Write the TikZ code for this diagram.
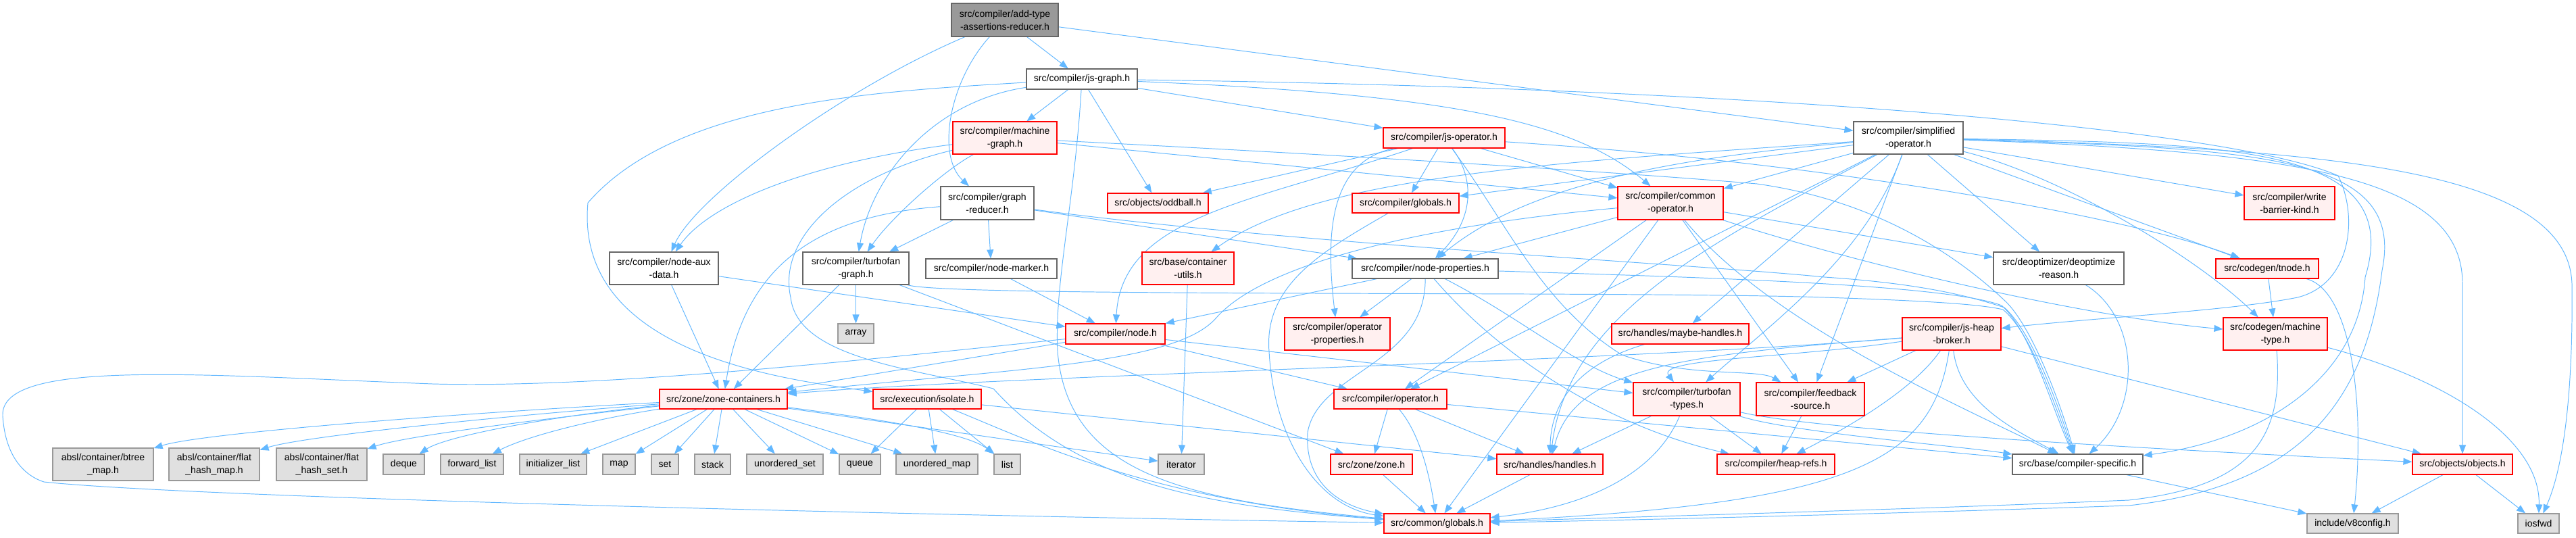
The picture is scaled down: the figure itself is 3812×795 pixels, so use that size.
\documentclass[tikz,border=0pt]{standalone}
\usepackage{fontspec}
\setmainfont{Liberation Sans}
\usetikzlibrary{arrows.meta}
\definecolor{edgec}{HTML}{63B8FF}
\definecolor{redb}{HTML}{FF0000}
\definecolor{redf}{HTML}{FFF0F0}
\definecolor{grayb}{HTML}{999999}
\definecolor{grayf}{HTML}{E0E0E0}
\definecolor{darkb}{HTML}{666666}
\pgfdeclarelayer{bg}
\pgfsetlayers{bg,main}
\newcommand\mkn[7]{\node[#1, minimum width={(#5-#3)*0.02cm}, minimum height={(#6-#4)*0.02cm}] (#2) at ({(#3+#5)/2},{(#4+#6)/2}) {#7};}
\begin{document}
\begin{tikzpicture}[x=0.02cm,y=-0.02cm,
  box/.style={rectangle, inner sep=0pt, line width=0.7pt, align=center, font=\fontsize{8}{10.8}\selectfont, text=black},
  rb/.style={box, draw=redb, fill=redf},
  wb/.style={box, draw=darkb, fill=white},
  gb/.style={box, draw=grayb, fill=grayf},
  rootb/.style={box, draw=darkb, fill=grayb},
  e/.style={draw=edgec, line width=0.55pt, -{Triangle[length=0.26cm,width=0.2cm]}}]
\useasboundingbox (0,0) rectangle (3812,795);
% nodes
\mkn{rootb}{root}{1408}{5}{1566}{54}{src/compiler/add-type\\-assertions-reducer.h}
\mkn{wb}{jsgraph}{1519}{102}{1683}{132}{src/compiler/js-graph.h}
\mkn{rb}{mgraph}{1410}{180}{1564}{228}{src/compiler/machine\\-graph.h}
\mkn{wb}{greducer}{1392}{276}{1530}{325}{src/compiler/graph\\-reducer.h}
\mkn{rb}{oddball}{1639}{286}{1788}{315}{src/objects/oddball.h}
\mkn{wb}{nodeaux}{902}{373}{1063}{421}{src/compiler/node-aux\\-data.h}
\mkn{wb}{tfgraph}{1188}{373}{1345}{421}{src/compiler/turbofan\\-graph.h}
\mkn{wb}{nodemarker}{1370}{383}{1564}{412}{src/compiler/node-marker.h}
\mkn{rb}{cutils}{1690}{373}{1826}{421}{src/base/container\\-utils.h}
\mkn{gb}{array}{1240}{479}{1293}{508}{array}
\mkn{rb}{nodeh}{1577}{479}{1724}{509}{src/compiler/node.h}
\mkn{rb}{opprops}{1901}{470}{2057}{518}{src/compiler/operator\\-properties.h}
\mkn{rb}{zonecont}{976}{576}{1165}{605}{src/zone/zone-containers.h}
\mkn{rb}{isolate}{1292}{576}{1452}{605}{src/execution/isolate.h}
\mkn{gb}{btree}{78}{663}{227}{711}{absl/container/btree\\\_map.h}
\mkn{gb}{fhm}{250}{663}{384}{711}{absl/container/flat\\\_hash\_map.h}
\mkn{gb}{fhs}{409}{663}{543}{711}{absl/container/flat\\\_hash\_set.h}
\mkn{gb}{deque}{567}{672}{628}{702}{deque}
\mkn{gb}{fwdlist}{652}{672}{745}{702}{forward\_list}
\mkn{gb}{initlist}{769}{672}{868}{702}{initializer\_list}
\mkn{gb}{map}{892}{672}{940}{702}{map}
\mkn{gb}{set}{964}{672}{1004}{702}{set}
\mkn{gb}{stack}{1028}{672}{1081}{702}{stack}
\mkn{gb}{uset}{1105}{672}{1218}{702}{unordered\_set}
\mkn{gb}{queue}{1242}{672}{1303}{702}{queue}
\mkn{gb}{umap}{1326}{672}{1447}{702}{unordered\_map}
\mkn{gb}{list}{1471}{672}{1510}{702}{list}
\mkn{gb}{iterator}{1714}{672}{1782}{702}{iterator}
\mkn{rb}{jsop}{2047}{189}{2227}{219}{src/compiler/js-operator.h}
\mkn{rb}{cmpglobals}{2001}{286}{2159}{315}{src/compiler/globals.h}
\mkn{rb}{commonop}{2394}{276}{2550}{325}{src/compiler/common\\-operator.h}
\mkn{wb}{nodeprops}{2001}{383}{2217}{412}{src/compiler/node-properties.h}
\mkn{rb}{operatorh}{1974}{576}{2141}{605}{src/compiler/operator.h}
\mkn{rb}{zoneh}{1969}{672}{2090}{702}{src/zone/zone.h}
\mkn{rb}{handles}{2215}{672}{2372}{702}{src/handles/handles.h}
\mkn{rb}{cglobals}{2048}{760}{2205}{789}{src/common/globals.h}
\mkn{rb}{maybeh}{2385}{479}{2588}{509}{src/handles/maybe-handles.h}
\mkn{rb}{tftypes}{2417}{566}{2575}{615}{src/compiler/turbofan\\-types.h}
\mkn{rb}{heaprefs}{2541}{672}{2715}{702}{src/compiler/heap-refs.h}
\mkn{wb}{simplified}{2743}{180}{2905}{228}{src/compiler/simplified\\-operator.h}
\mkn{wb}{deopt}{2950}{373}{3143}{421}{src/deoptimizer/deoptimize\\-reason.h}
\mkn{rb}{jsheap}{2815}{470}{2961}{518}{src/compiler/js-heap\\-broker.h}
\mkn{rb}{feedback}{2599}{566}{2759}{615}{src/compiler/feedback\\-source.h}
\mkn{wb}{compspec}{2978}{672}{3171}{702}{src/base/compiler-specific.h}
\mkn{rb}{writebarrier}{3321}{276}{3455}{325}{src/compiler/write\\-barrier-kind.h}
\mkn{rb}{tnode}{3279}{383}{3431}{412}{src/codegen/tnode.h}
\mkn{rb}{machtype}{3290}{470}{3444}{518}{src/codegen/machine\\-type.h}
\mkn{rb}{objects}{3570}{672}{3718}{702}{src/objects/objects.h}
\mkn{gb}{v8config}{3414}{760}{3549}{789}{include/v8config.h}
\mkn{gb}{iosfwd}{3726}{760}{3787}{789}{iosfwd}
\begin{pgfonlayer}{bg}
\fill[white] (0,0) rectangle (3812,795);
% root
\draw[e] (root) -- (jsgraph);
\draw[e] (root) .. controls (1405,120) and (1385,230) .. (greducer);
\draw[e] (root) .. controls (1250,130) and (1030,290) .. (nodeaux);
\draw[e] (root) -- (simplified);
% js-graph
\draw[e] (jsgraph) -- (mgraph);
\draw[e] (jsgraph) -- (oddball);
\draw[e] (jsgraph) .. controls (1380,150) and (1290,260) .. (tfgraph);
\draw[e] (jsgraph) .. controls (1300,135) and (1000,150) .. (870,300) .. controls (850,520) and (1150,560) .. (isolate);
\draw[e] (jsgraph) .. controls (1590,300) and (1560,420) .. (1565,520) .. controls (1580,700) and (1750,740) .. (cglobals);
\draw[e] (jsgraph) -- (jsop);
\draw[e] (jsgraph) .. controls (2150,140) and (2330,180) .. (commonop);
\draw[e] (jsgraph) .. controls (2600,130) and (3300,190) .. (3460,260) .. controls (3490,320) and (3480,420) .. (3400,440) .. controls (3300,460) and (3100,470) .. (jsheap);
% machine-graph
\draw[e] (mgraph) .. controls (1200,240) and (1050,300) .. (nodeaux);
\draw[e] (mgraph) .. controls (1400,250) and (1320,320) .. (tfgraph);
\draw[e] (mgraph) .. controls (1250,260) and (1150,350) .. (1170,440) .. controls (1180,530) and (1350,545) .. (1470,575) .. controls (1600,720) and (1800,750) .. (cglobals);
\draw[e] (mgraph) .. controls (2000,230) and (2400,255) .. (2600,272) .. controls (2800,300) and (2920,400) .. (2970,448) .. controls (3010,490) and (3050,600) .. (compspec);
\draw[e] (mgraph) -- (commonop);
% graph-reducer
\draw[e] (greducer) -- (tfgraph);
\draw[e] (greducer) -- (nodemarker);
\draw[e] (greducer) .. controls (1200,320) and (1100,400) .. (zonecont);
\draw[e] (greducer) -- (nodeprops);
\draw[e] (greducer) .. controls (1900,360) and (2500,390) .. (2700,410) .. controls (2850,420) and (2920,440) .. (2966,455) .. controls (3010,495) and (3045,600) .. (compspec);
% node-aux-data
\draw[e] (nodeaux) -- (zonecont);
\draw[e] (nodeaux) -- (nodeh);
% turbofan-graph
\draw[e] (tfgraph) -- (array);
\draw[e] (tfgraph) -- (zonecont);
\draw[e] (tfgraph) -- (zoneh);
\draw[e] (tfgraph) .. controls (1400,440) and (2400,430) .. (2700,440) .. controls (2850,445) and (2930,450) .. (2964,458) .. controls (3008,495) and (3040,600) .. (compspec);
% misc
\draw[e] (nodemarker) -- (nodeh);
\draw[e] (cutils) -- (iterator);
% node.h
\draw[e] (nodeh) -- (zonecont);
\draw[e] (nodeh) .. controls (1300,530) and (900,575) .. (640,568) .. controls (300,555) and (0,530) .. (4,615) .. controls (8,680) and (40,705) .. (65,713) .. controls (300,738) and (1500,765) .. (cglobals);
\draw[e] (nodeh) -- (operatorh);
\draw[e] (nodeh) -- (tftypes);
% zone-containers
\draw[e] (zonecont) .. controls (700,610) and (300,640) .. (btree);
\draw[e] (zonecont) .. controls (750,615) and (450,645) .. (fhm);
\draw[e] (zonecont) .. controls (800,620) and (600,645) .. (fhs);
\draw[e] (zonecont) .. controls (820,615) and (660,645) .. (deque);
\draw[e] (zonecont) .. controls (880,620) and (780,645) .. (fwdlist);
\draw[e] (zonecont) -- (initlist);
\draw[e] (zonecont) -- (map);
\draw[e] (zonecont) -- (set);
\draw[e] (zonecont) -- (stack);
\draw[e] (zonecont) -- (uset);
\draw[e] (zonecont) -- (queue);
\draw[e] (zonecont) -- (umap);
\draw[e] (zonecont) .. controls (1300,620) and (1430,640) .. (list);
\draw[e] (zonecont) -- (iterator);
% isolate
\draw[e] (isolate) -- (queue);
\draw[e] (isolate) -- (umap);
\draw[e] (isolate) -- (list);
\draw[e] (isolate) .. controls (1520,650) and (1700,740) .. (cglobals);
\draw[e] (isolate) -- (handles);
% operator.h
\draw[e] (operatorh) -- (zoneh);
\draw[e] (operatorh) .. controls (2100,640) and (2115,700) .. (cglobals);
\draw[e] (operatorh) -- (handles);
\draw[e] (operatorh) -- (compspec);
\draw[e] (zoneh) -- (cglobals);
\draw[e] (handles) -- (cglobals);
% node-properties
\draw[e] (nodeprops) -- (opprops);
\draw[e] (nodeprops) -- (nodeh);
\draw[e] (nodeprops) .. controls (2110,540) and (1950,550) .. (1935,640) .. controls (1930,720) and (1990,750) .. (cglobals);
\draw[e] (nodeprops) .. controls (2250,470) and (2330,540) .. (tftypes);
\draw[e] (nodeprops) .. controls (2250,560) and (2420,640) .. (heaprefs);
\draw[e] (nodeprops) .. controls (2500,410) and (2880,420) .. (2962,452) .. controls (3005,490) and (3035,600) .. (compspec);
% common-operator
\draw[e] (commonop) -- (nodeprops);
\draw[e] (commonop) -- (operatorh);
\draw[e] (commonop) -- (cglobals);
\draw[e] (commonop) .. controls (2150,330) and (1880,380) .. (1800,470) .. controls (1740,540) and (1500,545) .. (zonecont);
\draw[e] (commonop) .. controls (2620,480) and (2900,600) .. (compspec);
\draw[e] (commonop) .. controls (2780,400) and (3100,470) .. (machtype);
\draw[e] (commonop) -- (feedback);
\draw[e] (commonop) -- (deopt);
% simplified-operator
\draw[e] (simplified) -- (commonop);
\draw[e] (simplified) -- (cmpglobals);
\draw[e] (simplified) .. controls (2300,240) and (1950,260) .. (cutils);
\draw[e] (simplified) .. controls (2450,235) and (2250,280) .. (nodeprops);
\draw[e] (simplified) -- (operatorh);
\draw[e] (simplified) .. controls (2760,380) and (2620,480) .. (tftypes);
\draw[e] (simplified) -- (feedback);
\draw[e] (simplified) .. controls (2550,350) and (2320,460) .. (handles);
\draw[e] (simplified) -- (maybeh);
\draw[e] (simplified) .. controls (3350,220) and (3560,230) .. (3525,400) .. controls (3500,600) and (3400,720) .. (3150,748) .. controls (2800,760) and (2400,770) .. (cglobals);
\draw[e] (simplified) .. controls (3300,212) and (3560,215) .. (3500,410) .. controls (3490,560) and (3350,650) .. (compspec);
\draw[e] (simplified) .. controls (3400,225) and (3644,260) .. (3644,420) -- (objects);
\draw[e] (simplified) .. controls (3450,220) and (3800,250) .. (3806,420) .. controls (3808,600) and (3790,700) .. (iosfwd);
\draw[e] (simplified) -- (writebarrier);
\draw[e] (simplified) -- (tnode);
\draw[e] (simplified) .. controls (3050,260) and (3250,380) .. (machtype);
\draw[e] (simplified) -- (deopt);
% js-operator
\draw[e] (jsop) -- (cmpglobals);
\draw[e] (jsop) .. controls (2180,260) and (2185,320) .. (nodeprops);
\draw[e] (jsop) .. controls (1965,240) and (1962,350) .. (opprops);
\draw[e] (jsop) -- (commonop);
\draw[e] (jsop) .. controls (1850,300) and (1660,320) .. (nodeh);
\draw[e] (jsop) -- (oddball);
\draw[e] (jsop) .. controls (2230,330) and (2280,450) .. (2400,525) .. controls (2500,560) and (2600,545) .. (feedback);
\draw[e] (jsop) .. controls (2700,240) and (3150,320) .. (tnode);
% js-heap-broker
\draw[e] (jsheap) -- (feedback);
\draw[e] (jsheap) .. controls (2830,580) and (2720,640) .. (heaprefs);
\draw[e] (jsheap) .. controls (2860,680) and (2750,745) .. (cglobals);
\draw[e] (jsheap) .. controls (2900,600) and (2990,640) .. (compspec);
\draw[e] (jsheap) -- (objects);
\draw[e] (jsheap) .. controls (2400,535) and (1500,555) .. (zonecont);
\draw[e] (jsheap) .. controls (2500,525) and (2330,540) .. (handles);
\draw[e] (jsheap) .. controls (2650,530) and (2450,530) .. (tftypes);
% turbofan-types
\draw[e] (tftypes) -- (handles);
\draw[e] (tftypes) .. controls (2450,700) and (2350,750) .. (cglobals);
\draw[e] (tftypes) -- (heaprefs);
\draw[e] (tftypes) .. controls (2700,640) and (3300,670) .. (objects);
\draw[e] (tftypes) .. controls (2650,640) and (2900,660) .. (compspec);
% others
\draw[e] (feedback) -- (heaprefs);
\draw[e] (maybeh) .. controls (2330,540) and (2295,600) .. (handles);
\draw[e] (cmpglobals) .. controls (1960,370) and (1870,420) .. (1878,520) .. controls (1885,650) and (1950,750) .. (cglobals);
\draw[e] (machtype) .. controls (3620,560) and (3760,650) .. (iosfwd);
\draw[e] (machtype) .. controls (3380,650) and (3330,720) .. (3150,740) .. controls (2800,755) and (2400,765) .. (cglobals);
\draw[e] (tnode) -- (machtype);
\draw[e] (tnode) .. controls (3480,430) and (3500,600) .. (v8config);
\draw[e] (deopt) .. controls (3165,470) and (3170,600) .. (compspec);
\draw[e] (compspec) -- (v8config);
\draw[e] (objects) -- (v8config);
\draw[e] (objects) -- (iosfwd);
\end{pgfonlayer}
\end{tikzpicture}
\end{document}
